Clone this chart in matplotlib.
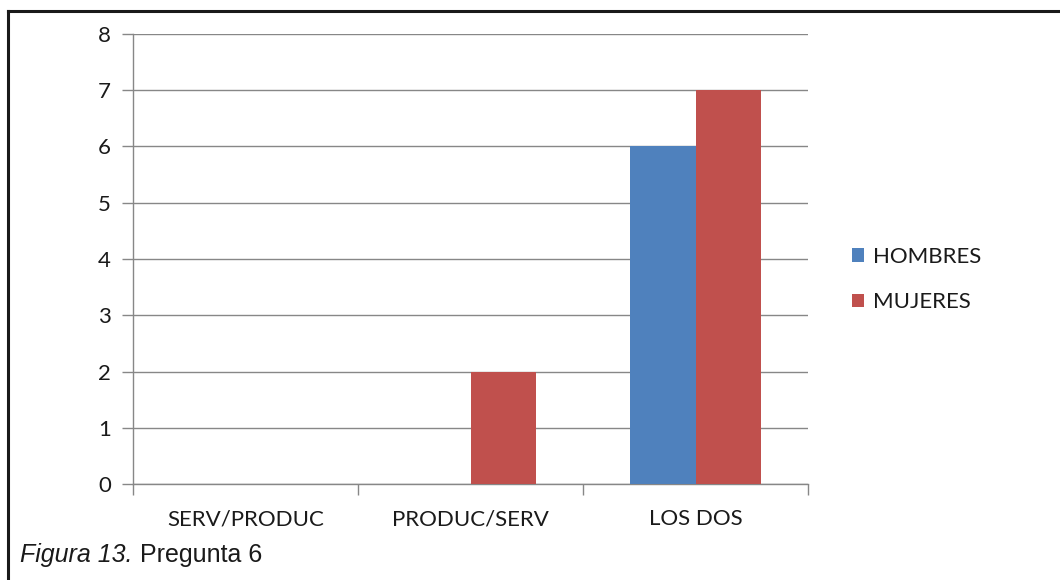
import numpy as np
import matplotlib
matplotlib.use("Agg")
import matplotlib.pyplot as plt
from matplotlib.lines import Line2D
from matplotlib.patches import Patch

# survey answers per category
categorias = ["SERV/PRODUC", "PRODUC/SERV", "LOS DOS"]
hombres = [0, 0, 6]
mujeres = [0, 2, 7]
series = ["HOMBRES", "MUJERES"]
colores = ["#4F81BD", "#C0504D"]
yticks = [0, 1, 2, 3, 4, 5, 6, 7, 8]

GRIS = "#878787"
TEXTO = "#1a1a1a"
FUENTE = "Lato"
TAM = 16

fig = plt.figure(figsize=(10.6, 5.8), dpi=100)
ax = fig.add_axes([0.1255, 0.1655, 0.6368, 0.7759])

x = np.arange(len(categorias))
ancho = 0.29
ax.bar(x - ancho / 2, hombres, ancho, color=colores[0], zorder=3)
ax.bar(x + ancho / 2, mujeres, ancho, color=colores[1], zorder=3)

ax.set_xlim(-0.5, len(categorias) - 0.5)
ax.set_ylim(0, 8)
ax.set_yticks(yticks)
ax.yaxis.grid(True, color=GRIS, linewidth=1.0, zorder=0)
ax.set_axisbelow(True)

# category labels sit between the boundary ticks
ax.set_xticks(x)
ax.set_xticklabels(categorias, fontsize=TAM, family=FUENTE, color=TEXTO)
ax.tick_params(axis="x", length=0, pad=18)
ax.set_xticks(np.arange(-0.5, len(categorias)), minor=True)
ax.tick_params(axis="x", which="minor", length=8, color=GRIS, width=1.0)
ax.tick_params(axis="y", length=8, color=GRIS, width=1.0, pad=8,
               labelsize=TAM, labelcolor=TEXTO)
for lbl in ax.get_yticklabels():
    lbl.set_family(FUENTE)

for lado in ["top", "right"]:
    ax.spines[lado].set_visible(False)
for lado in ["left", "bottom"]:
    ax.spines[lado].set_color(GRIS)
    ax.spines[lado].set_linewidth(1.0)

handles = [Patch(facecolor=c, edgecolor="none") for c in colores]
fig.legend(handles, series, loc="center left", bbox_to_anchor=(0.785, 0.518),
           frameon=False, handlelength=0.55, handleheight=0.55,
           handletextpad=0.4, labelspacing=1.15,
           prop={"family": FUENTE, "size": TAM}, labelcolor=TEXTO)

# frame lines on the top and left of the figure
fig.add_artist(Line2D([0.0075, 1.0], [0.9810, 0.9810], color="#1a1a1a",
                      linewidth=2.2, transform=fig.transFigure))
fig.add_artist(Line2D([0.0075, 0.0075], [0.0, 0.9810], color="#1a1a1a",
                      linewidth=2.2, transform=fig.transFigure))

# caption: italic label followed by regular text
t1 = fig.text(0.019, 0.0310, "Figura 13.", fontsize=18, style="italic",
              family="Liberation Sans", color=TEXTO)
fig.canvas.draw()
bb = t1.get_window_extent()
x2 = bb.x1 / fig.bbox.width
fig.text(x2, 0.0310, " Pregunta 6", fontsize=18,
         family="Liberation Sans", color=TEXTO)

fig.savefig("out.png", dpi=100)
